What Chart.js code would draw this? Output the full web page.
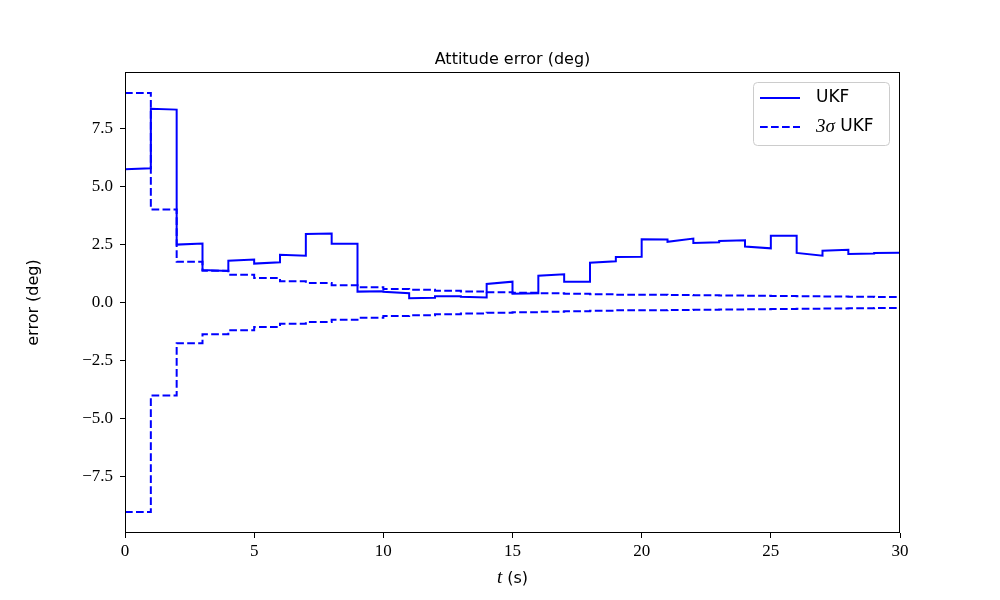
<!DOCTYPE html>
<html>
<head>
<meta charset="utf-8">
<script src="https://cdn.jsdelivr.net/npm/chart.js@4"></script>
<style>
  body { margin: 0; background: #fff; }
  #wrap { width: 1000px; height: 600px; }
</style>
</head>
<body>
<div id="wrap"><canvas id="att" width="1000" height="600"></canvas></div>
<script>
// step boundaries (s)
const stepTimes = [0, 1, 2, 3, 4, 5, 6, 7, 8, 9, 10, 11, 12, 13, 14, 15,
                   16, 17, 18, 19, 20, 21, 22, 23, 24, 25, 26, 27, 28, 29, 30];

// UKF attitude error, value at start and end of each 1 s step (deg)
const ukfStart = [5.75, 8.37, 2.50, 1.40, 1.80, 1.68, 2.06, 2.96, 2.54, 0.47,
                  0.46, 0.18, 0.27, 0.25, 0.80, 0.38, 1.16, 0.90, 1.72, 1.97,
                  2.73, 2.62, 2.57, 2.66, 2.42, 2.88, 2.14, 2.24, 2.10, 2.14];
const ukfEnd   = [5.80, 8.33, 2.55, 1.36, 1.86, 1.74, 2.02, 2.98, 2.54, 0.49,
                  0.40, 0.20, 0.27, 0.22, 0.90, 0.40, 1.22, 0.90, 1.78, 1.98,
                  2.72, 2.76, 2.60, 2.69, 2.34, 2.88, 2.02, 2.28, 2.12, 2.15];

// 3 sigma bound per step (deg)
const sigma3 = [9.05, 4.02, 1.76, 1.37, 1.20, 1.06, 0.92, 0.84, 0.75, 0.66,
                0.58, 0.55, 0.51, 0.47, 0.44, 0.42, 0.40, 0.38, 0.36, 0.34,
                0.33, 0.32, 0.31, 0.30, 0.29, 0.28, 0.27, 0.26, 0.25, 0.24];

const xTicks = [0, 5, 10, 15, 20, 25, 30];
const yTicks = [-7.5, -5, -2.5, 0, 2.5, 5, 7.5];

const BLUE = '#0000ff';
const DASH = [7.7, 3.3];
const SERIF = '"Liberation Serif", "DejaVu Serif", serif';
const SANS = '"DejaVu Sans", sans-serif';

function rampPoints(a, b) {
  const pts = [];
  for (let i = 0; i < a.length; i++) {
    pts.push({ x: stepTimes[i], y: a[i] });
    pts.push({ x: stepTimes[i + 1], y: b[i] });
  }
  return pts;
}

function stepPoints(vals, sign) {
  const pts = [];
  vals.forEach((v, i) => {
    pts.push({ x: stepTimes[i], y: sign * v });
    pts.push({ x: stepTimes[i + 1], y: sign * v });
  });
  return pts;
}

const fmt = v => (v < 0 ? '\u2212' : '') + Math.abs(v).toFixed(1);

// title, axis titles, frame and legend, drawn like matplotlib does
const decor = {
  id: 'decor',
  afterDraw(chart) {
    const { ctx, chartArea: ca } = chart;
    ctx.save();
    ctx.strokeStyle = '#000';
    ctx.lineWidth = 1;
    ctx.strokeRect(ca.left + 0.5, ca.top + 0.5, ca.right - ca.left - 1, ca.bottom - ca.top - 1);

    ctx.fillStyle = '#000';
    ctx.font = '16px ' + SANS;
    ctx.textAlign = 'center';
    ctx.textBaseline = 'alphabetic';
    ctx.fillText('Attitude error (deg)', (ca.left + ca.right) / 2, ca.top - 8);

    // y title
    ctx.save();
    ctx.translate(34, (ca.top + ca.bottom) / 2);
    ctx.rotate(-Math.PI / 2);
    ctx.textBaseline = 'middle';
    ctx.fillText('error (deg)', 0, 0);
    ctx.restore();

    // x title: italic t + (s)
    const cx = (ca.left + ca.right) / 2;
    ctx.textAlign = 'left';
    ctx.font = 'italic 19px ' + SERIF;
    const wt = ctx.measureText('t').width;
    ctx.font = '16px ' + SANS;
    const ws = ctx.measureText(' (s)').width;
    const x0 = cx - (wt + ws) / 2;
    ctx.font = 'italic 19px ' + SERIF;
    ctx.fillText('t', x0, ca.bottom + 50);
    ctx.font = '16px ' + SANS;
    ctx.fillText(' (s)', x0 + wt, ca.bottom + 50);

    // legend
    const bx = ca.right - 147, by = ca.top + 10, bw = 136, bh = 63;
    ctx.beginPath();
    ctx.roundRect(bx + 0.5, by + 0.5, bw, bh, 4);
    ctx.fillStyle = 'rgba(255,255,255,0.8)';
    ctx.fill();
    ctx.strokeStyle = '#cccccc';
    ctx.stroke();

    const rows = [by + 16, by + 45];
    chart.data.datasets.slice(0, 2).forEach((ds, i) => {
      ctx.beginPath();
      ctx.strokeStyle = ds.borderColor;
      ctx.lineWidth = ds.borderWidth;
      ctx.setLineDash(ds.borderDash || []);
      ctx.moveTo(bx + 7, rows[i]);
      ctx.lineTo(bx + 47, rows[i]);
      ctx.stroke();
    });
    ctx.setLineDash([]);
    ctx.fillStyle = '#000';
    ctx.textBaseline = 'middle';
    ctx.font = '17px ' + SANS;
    ctx.fillText('UKF', bx + 63, rows[0]);
    ctx.font = 'italic 19px ' + SERIF;
    ctx.fillText('3\u03c3', bx + 63, rows[1]);
    const w3 = ctx.measureText('3\u03c3').width;
    ctx.font = '17px ' + SANS;
    ctx.fillText(' UKF', bx + 63 + w3, rows[1]);
    ctx.restore();
  }
};

const line = (label, data, dash) => ({
  label, data,
  borderColor: BLUE,
  borderWidth: 2,
  borderDash: dash,
  pointRadius: 0,
  tension: 0,
  fill: false,
});

new Chart(document.getElementById('att'), {
  type: 'line',
  data: {
    datasets: [
      line('UKF', rampPoints(ukfStart, ukfEnd), []),
      line('3\u03c3 UKF', stepPoints(sigma3, 1), DASH),
      line('3\u03c3 UKF low', stepPoints(sigma3, -1), DASH),
    ],
  },
  options: {
    responsive: false,
    animation: false,
    layout: { padding: { top: 72, right: 100, left: 0, bottom: 0 } },
    plugins: { legend: { display: false }, tooltip: { enabled: false }, title: { display: false } },
    scales: {
      x: {
        type: 'linear', min: 0, max: 30,
        afterBuildTicks: s => { s.ticks = xTicks.map(v => ({ value: v })); },
        afterFit: s => { s.height = 67; },
        grid: { drawOnChartArea: false, drawTicks: true, tickLength: 5, tickColor: '#000' },
        border: { display: false },
        ticks: { color: '#000', font: { family: SERIF, size: 17 }, padding: 3, maxRotation: 0 },
      },
      y: {
        type: 'linear', min: -9.955, max: 9.955,
        afterBuildTicks: s => { s.ticks = yTicks.map(v => ({ value: v })); },
        afterFit: s => { s.width = 125; },
        grid: { drawOnChartArea: false, drawTicks: true, tickLength: 5, tickColor: '#000' },
        border: { display: false },
        ticks: { color: '#000', font: { family: SERIF, size: 17 }, padding: 7, callback: fmt },
      },
    },
  },
  plugins: [decor],
});
</script>
</body>
</html>
